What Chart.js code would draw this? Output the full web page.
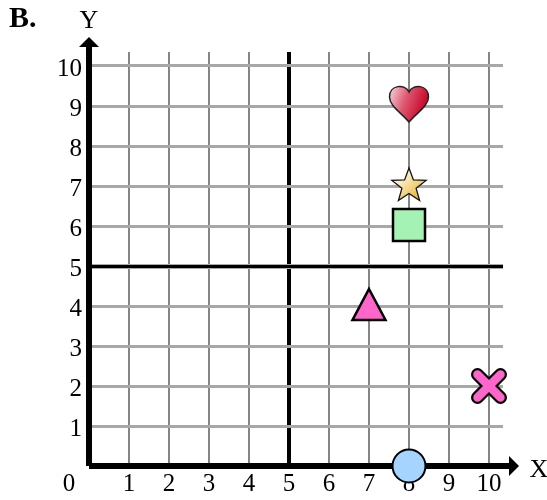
<!DOCTYPE html>
<html>
<head>
<meta charset="utf-8">
<title>Coordinate grid B</title>
<script src="https://cdn.jsdelivr.net/npm/chart.js@4/dist/chart.umd.min.js"></script>
<style>
  html, body { margin: 0; padding: 0; background: #fff; }
  #wrap { width: 547px; height: 500px; }
</style>
</head>
<body>
<div id="wrap"><canvas id="chart" width="547" height="500"></canvas></div>
<script>
const panelLabel = "B.";
const xAxisName = "X";
const yAxisName = "Y";
const originLabel = "0";
const axisMax = 10.35;

const heartPoint = [8, 9];
const starPoint = [8, 7];
const squarePoint = [8, 6];
const trianglePoint = [7, 4];
const crossPoint = [10, 2];
const circlePoint = [8, 0];

const serif = '"Liberation Serif", "Times New Roman", serif';

// ---------- Marker images ----------

function markerCanvas(paint) {
  const c = document.createElement("canvas");
  c.width = 60;
  c.height = 60;
  const ctx = c.getContext("2d");
  ctx.translate(30, 30);
  paint(ctx);
  return c;
}

const heartMarker = markerCanvas(ctx => {
  const g = ctx.createLinearGradient(-19, -12, 14, 0);
  g.addColorStop(0, "#f2c4ce");
  g.addColorStop(0.45, "#df5a74");
  g.addColorStop(1, "#c8102e");
  ctx.beginPath();
  ctx.moveTo(0, 16);
  ctx.bezierCurveTo(-8, 6.5, -19.5, 0, -19.5, -9);
  ctx.bezierCurveTo(-19.5, -21.5, -4, -22.5, 0, -14);
  ctx.bezierCurveTo(4, -22.5, 19.5, -21.5, 19.5, -9);
  ctx.bezierCurveTo(19.5, 0, 8, 6.5, 0, 16);
  ctx.closePath();
  ctx.fillStyle = g;
  ctx.fill();
  ctx.lineWidth = 1.5;
  ctx.strokeStyle = "#222";
  ctx.stroke();
});

const starMarker = markerCanvas(ctx => {
  const g = ctx.createLinearGradient(-12, -12, 10, 13);
  g.addColorStop(0, "#fffdf2");
  g.addColorStop(1, "#eab530");
  ctx.beginPath();
  for (let i = 0; i < 10; i++) {
    const r = i % 2 ? 7.5 : 18;
    const a = -Math.PI / 2 + i * Math.PI / 5;
    ctx.lineTo(r * Math.cos(a), r * Math.sin(a));
  }
  ctx.closePath();
  ctx.fillStyle = g;
  ctx.fill();
  ctx.lineWidth = 1.3;
  ctx.strokeStyle = "#111";
  ctx.stroke();
});

const squareMarker = markerCanvas(ctx => {
  ctx.fillStyle = "#a5f2b5";
  ctx.strokeStyle = "#000";
  ctx.lineWidth = 2.5;
  ctx.fillRect(-16, -17, 32, 32);
  ctx.strokeRect(-16, -17, 32, 32);
});

const triangleMarker = markerCanvas(ctx => {
  ctx.beginPath();
  ctx.moveTo(0, -17);
  ctx.lineTo(16.5, 14);
  ctx.lineTo(-16.5, 14);
  ctx.closePath();
  ctx.fillStyle = "#ff66cc";
  ctx.fill();
  ctx.lineWidth = 2.5;
  ctx.lineJoin = "miter";
  ctx.strokeStyle = "#000";
  ctx.stroke();
});

const crossMarker = markerCanvas(ctx => {
  const arms = () => {
    ctx.beginPath();
    ctx.moveTo(-11.5, -11.5);
    ctx.lineTo(11.5, 11.5);
    ctx.moveTo(11.5, -11.5);
    ctx.lineTo(-11.5, 11.5);
  };
  ctx.lineCap = "round";
  ctx.lineWidth = 13;
  ctx.strokeStyle = "#000";
  arms();
  ctx.stroke();
  ctx.lineWidth = 8.5;
  ctx.strokeStyle = "#ff66cc";
  arms();
  ctx.stroke();
});

const circleMarker = markerCanvas(ctx => {
  ctx.beginPath();
  ctx.arc(0, 0, 16.5, 0, Math.PI * 2);
  ctx.fillStyle = "#a5d5ff";
  ctx.fill();
  ctx.lineWidth = 2;
  ctx.strokeStyle = "#000";
  ctx.stroke();
});

function markerSet(point, marker) {
  return {
    data: [{ x: point[0], y: point[1] }],
    pointStyle: marker,
    clip: false,
    showLine: false
  };
}

// ---------- Axes, arrows and loose text ----------

const axesPlugin = {
  id: "axes",
  beforeDatasetsDraw(chart) {
    const { ctx, scales, chartArea } = chart;
    const x0 = scales.x.getPixelForValue(0);
    const y0 = scales.y.getPixelForValue(0);
    const y5 = scales.y.getPixelForValue(5);
    ctx.save();
    ctx.fillStyle = "#000";
    // black core of the middle horizontal line, over its grey gridline
    ctx.fillRect(x0, y5 - 1, chartArea.right - x0, 3);
    ctx.fillRect(x0 - 3, 44, 6, y0 - 44);
    ctx.fillRect(x0, y0 - 3, 512 - x0, 6);
    ctx.beginPath();
    ctx.moveTo(x0, 37);
    ctx.lineTo(x0 + 10, 47);
    ctx.lineTo(x0 - 10, 47);
    ctx.closePath();
    ctx.fill();
    ctx.beginPath();
    ctx.moveTo(519, y0);
    ctx.lineTo(509, y0 - 10);
    ctx.lineTo(509, y0 + 10);
    ctx.closePath();
    ctx.fill();

    ctx.textBaseline = "alphabetic";
    ctx.font = "bold 30px " + serif;
    ctx.fillText(panelLabel, 9, 27);
    ctx.font = "26px " + serif;
    ctx.textAlign = "center";
    ctx.fillText(yAxisName, x0, 28);
    ctx.fillText(xAxisName, 539, 477);
    ctx.font = "25px " + serif;
    ctx.fillText(originLabel, 69, 491);
    ctx.restore();
  }
};

new Chart(document.getElementById("chart"), {
  type: "scatter",
  data: {
    datasets: [
      markerSet(heartPoint, heartMarker),
      markerSet(starPoint, starMarker),
      markerSet(squarePoint, squareMarker),
      markerSet(trianglePoint, triangleMarker),
      markerSet(crossPoint, crossMarker),
      markerSet(circlePoint, circleMarker)
    ]
  },
  options: {
    responsive: false,
    animation: false,
    layout: { padding: { left: 0, top: 52, right: 44, bottom: 0 } },
    plugins: { legend: { display: false }, tooltip: { enabled: false } },
    scales: {
      x: {
        type: "linear",
        min: 0,
        max: axisMax,
        afterFit(scale) { scale.height = 34; },
        border: { display: false },
        grid: {
          color: c => (c.tick.value === 5 ? "#000" : "#858585"),
          lineWidth: c => (c.tick.value === 5 ? 4 : 2),
          drawTicks: false
        },
        ticks: {
          stepSize: 1,
          includeBounds: false,
          maxRotation: 0,
          padding: 3,
          color: "#000",
          font: { family: serif, size: 25 },
          callback: v => (v === 0 ? "" : String(v))
        }
      },
      y: {
        type: "linear",
        min: 0,
        max: axisMax,
        afterFit(scale) { scale.width = 89; },
        border: { display: false },
        grid: {
          color: "#a8a8a8",
          lineWidth: c => (c.tick.value === 5 ? 5 : 3),
          drawTicks: false
        },
        ticks: {
          stepSize: 1,
          includeBounds: false,
          padding: 7,
          labelOffset: 3,
          color: "#000",
          font: { family: serif, size: 25 },
          callback: v => (v === 0 ? "" : String(v))
        }
      }
    }
  },
  plugins: [axesPlugin]
});
</script>
</body>
</html>
